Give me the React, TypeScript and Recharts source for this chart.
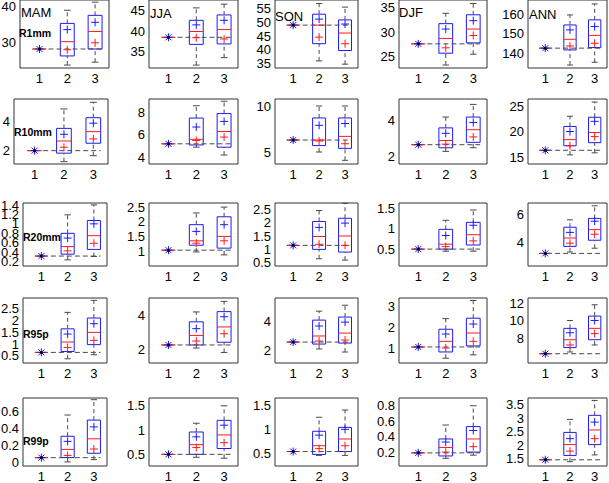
import { ComposedChart, XAxis, YAxis, ReferenceArea, ReferenceLine, Scatter } from 'recharts';

const seasons = ['MAM', 'JJA', 'SON', 'DJF', 'ANN'];
const indices = ['R1mm', 'R10mm', 'R20mm', 'R95p', 'R99p'];
const categories = [1, 2, 3];

// box stats at categories 2 and 3: [lowWhisker, q1, median, q3, highWhisker, bluePlus, redPlus]
const r1mmBase = [28.3, 38.5, 49.0, 27.6, 142.6];
const r1mmBox2 = [
  [23.9, 26.4, 30.3, 35.3, 38.9, 33.6, 28.1],
  [31.8, 36.8, 39.9, 42.6, 45.6, 41.5, 38.4],
  [35.9, 42.2, 49.0, 53.0, 56.9, 51.2, 44.6],
  [23.3, 25.7, 28.7, 31.7, 33.8, 30.6, 26.8],
  [134, 141.7, 147.1, 154.4, 159.5, 151.9, 143.7],
];
const r1mmBox3 = [
  [24.7, 28.3, 33.1, 37.5, 41.1, 35.6, 30.0],
  [33.6, 36.9, 40.4, 43.9, 46.5, 42.6, 38.1],
  [34.7, 39.7, 46.1, 50.9, 55.6, 49.4, 42.2],
  [25.5, 27.8, 30.6, 33.5, 35.8, 32.3, 29.3],
  [135.4, 142.9, 149.1, 157, 165.1, 153.6, 145.1],
];
const r1mmRange = [[23.1, 41.7], [31.1, 47.5], [33.3, 58.2], [22.7, 36.5], [132.5, 167.1]];
const r1mmTicks = [[30, 40], [35, 40, 45], [35, 40, 45, 50, 55], [25, 30, 35], [140, 150, 160]];

const r10mmBase = [2.0, 5.2, 6.3, 2.67, 16.3];
const r10mmBox2 = [
  [1.26, 1.83, 2.65, 3.5, 4.81, 3.1, 2.23],
  [4.9, 5.1, 5.6, 7.5, 8.6, 6.7, 5.5],
  [5.0, 5.7, 6.3, 8.7, 10.0, 7.9, 6.2],
  [2.3, 2.5, 2.9, 3.6, 4.2, 3.3, 2.7],
  [15.4, 17.2, 18.4, 21.0, 23.0, 20.0, 17.2],
];
const r10mmBox3 = [
  [1.66, 2.5, 3.28, 4.22, 5.26, 3.85, 2.79],
  [4.2, 4.9, 6.3, 7.9, 9.0, 7.2, 5.8],
  [4.1, 5.4, 6.7, 8.7, 10.0, 8.1, 5.9],
  [2.5, 2.8, 3.5, 4.2, 4.9, 3.9, 3.1],
  [15.8, 17.8, 19.8, 22.8, 25.8, 22.0, 19.0],
];
const r10mmRange = [[1.1, 5.48], [3.4, 9.2], [3.7, 10.76], [1.6, 5.2], [13.6, 26.4]];
const r10mmTicks = [[2, 4], [4, 6, 8], [5, 10], [2, 4], [15, 20, 25]];

const r20mmBase = [0.32, 1.03, 1.15, 0.5, 3.2];
const r20mmBox2 = [
  [0.24, 0.36, 0.52, 0.8, 1.19, 0.7, 0.43],
  [0.97, 1.2, 1.35, 1.9, 2.3, 1.67, 1.27],
  [0.65, 1.0, 1.48, 2.04, 2.45, 1.82, 1.19],
  [0.45, 0.5, 0.62, 0.98, 1.2, 0.83, 0.56],
  [3.3, 3.7, 4.3, 5.07, 5.6, 4.7, 3.93],
];
const r20mmBox3 = [
  [0.31, 0.46, 0.75, 1.07, 1.4, 1.0, 0.59],
  [0.87, 1.1, 1.5, 2.17, 2.5, 1.9, 1.35],
  [0.6, 0.9, 1.5, 2.16, 2.72, 1.98, 1.15],
  [0.45, 0.6, 0.85, 1.15, 1.45, 1.08, 0.7],
  [3.57, 4.14, 4.9, 5.7, 6.6, 5.5, 4.57],
];
const r20mmRange = [[0.11, 1.44], [0.49, 2.64], [0.38, 2.73], [0.09, 1.62], [2.3, 6.8]];
const r20mmTicks = [[0.2, 0.4, 0.6, 0.8, 1, 1.2, 1.4], [1, 1.5, 2, 2.5], [0.5, 1, 1.5, 2, 2.5], [0.5, 1, 1.5], [4, 6]];

const r95pBase = [0.64, 2.24, 2.55, 1.05, 6.2];
const r95pBox2 = [
  [0.37, 0.68, 1.08, 1.64, 2.34, 1.42, 0.85],
  [2.06, 2.24, 2.8, 3.6, 4.18, 3.2, 2.47],
  [2.07, 2.41, 2.97, 4.07, 4.69, 3.66, 2.62],
  [0.51, 0.81, 1.32, 1.9, 2.41, 1.67, 1.0],
  [6.4, 6.9, 7.8, 9.1, 10.0, 8.6, 7.2],
];
const r95pBox3 = [
  [0.54, 0.97, 1.49, 2.1, 2.85, 1.86, 1.15],
  [1.8, 2.4, 3.3, 4.2, 4.8, 3.9, 2.9],
  [1.86, 2.48, 3.17, 4.28, 5.1, 3.93, 2.69],
  [0.67, 1.1, 1.72, 2.43, 3.28, 2.15, 1.32],
  [7.2, 7.8, 9.1, 10.5, 11.8, 10.0, 8.5],
];
const r95pRange = [[0.19, 2.95], [1.18, 5.0], [1.1, 5.6], [0.28, 3.4], [5.14, 12.57]];
const r95pTicks = [[0.5, 1, 1.5, 2, 2.5], [2, 4], [2, 4], [1, 2, 3], [8, 10, 12]];

const r99pBase = [0.058, 0.5, 0.54, 0.19, 1.46];
const r99pBox2 = [
  [0.008, 0.06, 0.155, 0.31, 0.56, 0.25, 0.085],
  [0.44, 0.5, 0.7, 0.96, 1.14, 0.86, 0.64],
  [0.46, 0.48, 0.66, 0.96, 1.25, 0.88, 0.6],
  [0.12, 0.15, 0.26, 0.37, 0.55, 0.33, 0.2],
  [1.39, 1.62, 2.02, 2.47, 2.95, 2.24, 1.78],
];
const r99pBox3 = [
  [0.035, 0.11, 0.28, 0.5, 0.74, 0.42, 0.16],
  [0.42, 0.62, 0.9, 1.2, 1.5, 1.1, 0.74],
  [0.46, 0.54, 0.8, 1.04, 1.4, 1.0, 0.66],
  [0.16, 0.2, 0.37, 0.53, 0.8, 0.48, 0.27],
  [1.64, 2.02, 2.56, 3.1, 3.65, 2.85, 2.24],
];
const r99pRange = [[-0.04, 0.76], [0.26, 1.66], [0.24, 1.65], [0.02, 0.9], [1.23, 3.74]];
const r99pTicks = [[0, 0.2, 0.4, 0.6], [0.5, 1, 1.5], [0.5, 1, 1.5], [0.2, 0.4, 0.6, 0.8], [1.5, 2, 2.5, 3, 3.5]];

const rows = [
  { base: r1mmBase, box2: r1mmBox2, box3: r1mmBox3, range: r1mmRange, ticks: r1mmTicks },
  { base: r10mmBase, box2: r10mmBox2, box3: r10mmBox3, range: r10mmRange, ticks: r10mmTicks },
  { base: r20mmBase, box2: r20mmBox2, box3: r20mmBox3, range: r20mmRange, ticks: r20mmTicks },
  { base: r95pBase, box2: r95pBox2, box3: r95pBox3, range: r95pRange, ticks: r95pTicks },
  { base: r99pBase, box2: r99pBox2, box3: r99pBox3, range: r99pRange, ticks: r99pTicks },
];

// layout (pixels of the axes frames)
const ROW_Y = [[0, 68], [99, 164], [203, 266], [298, 363], [398, 466]];
const COL_X = [[20, 109], [149, 238], [275, 358], [399, 487], [528, 607]];
const COL1_X = [[20, 109], [14, 108], [23, 107], [23, 107], [23, 107]];
const SEASON_POS = [[21, 12], [150, 13.3], [275, 16], [399, 12.7], [529, 14]];
const INDEX_POS = [[19, 33.3], [14, 132.3], [23, 236.7], [23, 334.3], [23, 441]];

const X_DOMAIN = [0.3, 3.5];
const BOX = 0.25;
const CAP = 0.12;
const FONT = "'Liberation Sans', Arial, Helvetica, sans-serif";
const BLUE = '#1a1aff';
const RED = '#ff1a1a';
const DARK = '#4a4a4a';

const PlusShape = (color: string) => (p: any) => (
  <path d={`M${p.cx - 4},${p.cy}h8M${p.cx},${p.cy - 4}v8`} stroke={color} strokeWidth={1} fill="none" />
);

const StarShape = (p: any) => (
  <g>
    <path
      d={`M${p.cx - 4},${p.cy}h8M${p.cx},${p.cy - 4}v8M${p.cx - 3},${p.cy - 3}l6,6M${p.cx - 3},${p.cy + 3}l6,-6`}
      stroke={BLUE}
      strokeWidth={1}
      fill="none"
    />
    <circle cx={p.cx} cy={p.cy} r={1.5} fill="#000" />
  </g>
);

function boxElements(c: number, s: number[], key: string) {
  return [
    <ReferenceLine key={key + 'w1'} segment={[{ x: c, y: s[0] }, { x: c, y: s[1] }]} stroke={DARK} strokeDasharray="4 3" />,
    <ReferenceLine key={key + 'w2'} segment={[{ x: c, y: s[3] }, { x: c, y: s[4] }]} stroke={DARK} strokeDasharray="4 3" />,
    <ReferenceLine key={key + 'c1'} segment={[{ x: c - CAP, y: s[0] }, { x: c + CAP, y: s[0] }]} stroke={DARK} />,
    <ReferenceLine key={key + 'c2'} segment={[{ x: c - CAP, y: s[4] }, { x: c + CAP, y: s[4] }]} stroke={DARK} />,
    <ReferenceArea key={key + 'b'} x1={c - BOX} x2={c + BOX} y1={s[1]} y2={s[3]} fill="none" fillOpacity={0} stroke={BLUE} strokeOpacity={1} ifOverflow="visible" />,
    <ReferenceLine key={key + 'm'} segment={[{ x: c - BOX, y: s[2] }, { x: c + BOX, y: s[2] }]} stroke={RED} />,
  ];
}

function Panel({ row, col }: { row: number; col: number }) {
  const [top, bottom] = ROW_Y[row];
  const [left, right] = col === 0 ? COL1_X[row] : COL_X[col];
  const d = rows[row];
  const range = d.range[col];
  const base = d.base[col];
  const b2 = d.box2[col];
  const b3 = d.box3[col];
  const YW = 40, XH = 22, TP = 8, RP = 2;
  const w = right - left;
  const h = bottom - top;
  const tick = { fill: '#000', fontSize: 13, fontFamily: FONT };
  return (
    <div style={{ position: 'absolute', left: left - YW, top: top - TP }}>
      <ComposedChart width={YW + w + RP} height={TP + h + XH} margin={{ top: TP, right: RP, bottom: 0, left: 0 }}>
        <XAxis type="number" dataKey="x" domain={X_DOMAIN} ticks={categories} interval={0} allowDataOverflow
          axisLine={false} tickLine={false} tickSize={0} tickMargin={6} height={XH} tick={tick} />
        <YAxis type="number" dataKey="y" domain={range} ticks={d.ticks[col]} interval={0} allowDataOverflow
          axisLine={false} tickLine={false} tickSize={0} tickMargin={4} width={YW} tick={tick} />
        <ReferenceArea x1={X_DOMAIN[0]} x2={X_DOMAIN[1]} y1={range[0]} y2={range[1]} fill="none" fillOpacity={0}
          stroke="#333" strokeOpacity={1} ifOverflow="visible" />
        <ReferenceLine segment={[{ x: 0.75, y: base }, { x: 3.25, y: base }]} stroke={DARK} strokeDasharray="5 3" />
        {boxElements(2, b2, 'g2')}
        {boxElements(3, b3, 'g3')}
        <ReferenceLine segment={[{ x: 1 - BOX, y: base }, { x: 1 + BOX, y: base }]} stroke={RED} />
        <Scatter data={[{ x: 2, y: b2[5] }, { x: 3, y: b3[5] }]} dataKey="y" shape={PlusShape(BLUE)} isAnimationActive={false} />
        <Scatter data={[{ x: 2, y: b2[6] }, { x: 3, y: b3[6] }]} dataKey="y" shape={PlusShape(RED)} isAnimationActive={false} />
        <Scatter data={[{ x: 1, y: base }]} dataKey="y" shape={StarShape} isAnimationActive={false} />
      </ComposedChart>
    </div>
  );
}

export default function App() {
  return (
    <div style={{ position: 'absolute', left: 0, top: 0, width: 609, height: 483, background: '#fff', overflow: 'hidden' }}>
      {rows.map((_, r) => seasons.map((_, c) => <Panel key={`${r}-${c}`} row={r} col={c} />))}
      {seasons.map((s, i) => (
        <div key={s} style={{ position: 'absolute', left: SEASON_POS[i][0], top: SEASON_POS[i][1] - 6.4, fontFamily: FONT, fontSize: 13, lineHeight: '13px', color: '#000' }}>
          {s}
        </div>
      ))}
      {indices.map((s, i) => (
        <div key={s} style={{ position: 'absolute', left: INDEX_POS[i][0], top: INDEX_POS[i][1] - 5, fontFamily: FONT, fontSize: 10.5, fontWeight: 'bold', lineHeight: '10.5px', color: '#000' }}>
          {s}
        </div>
      ))}
    </div>
  );
}
